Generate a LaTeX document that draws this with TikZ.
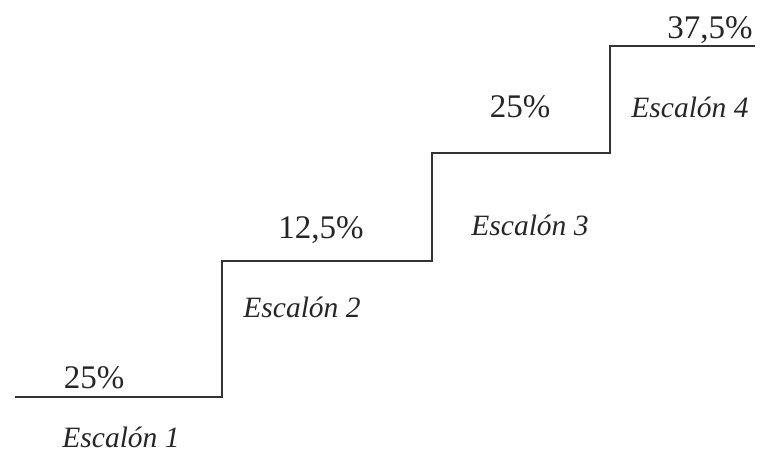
\documentclass[tikz,border=0pt]{standalone}
\usepackage{fontspec}
\setmainfont{Liberation Serif}
\begin{document}
\begin{tikzpicture}[x=1pt,y=-1pt,
  lbl/.style={inner sep=0pt,anchor=base,text=black!85,font=\fontsize{33}{38}\selectfont},
  ilbl/.style={inner sep=0pt,anchor=base,text=black!85,font=\fontsize{29.5}{34}\selectfont\itshape},
  stair/.style={line width=1.8pt,draw=black!80}]
\useasboundingbox (0,0) rectangle (772,470);
\coordinate (p0) at (15,397);
\coordinate (p1) at (222,397);
\coordinate (p2) at (222,261);
\coordinate (p3) at (432,261);
\coordinate (p4) at (432,153);
\coordinate (p5) at (610,153);
\coordinate (p6) at (610,46);
\coordinate (p7) at (755,46);
\draw[stair] (p0) -- (p1) -- (p2) -- (p3) -- (p4) -- (p5) -- (p6) -- (p7);
\node[lbl] (t1) at (94,389) {25\%};
\node[ilbl] (e1) at (121,448) {Escalón 1};
\node[lbl] (t2) at (321,239) {12,5\%};
\node[ilbl] (e2) at (302,318) {Escalón 2};
\node[lbl] (t3) at (520,118) {25\%};
\node[ilbl] (e3) at (530,236) {Escalón 3};
\node[lbl] (t4) at (710,39) {37,5\%};
\node[ilbl] (e4) at (690,118) {Escalón 4};
\end{tikzpicture}
\end{document}
